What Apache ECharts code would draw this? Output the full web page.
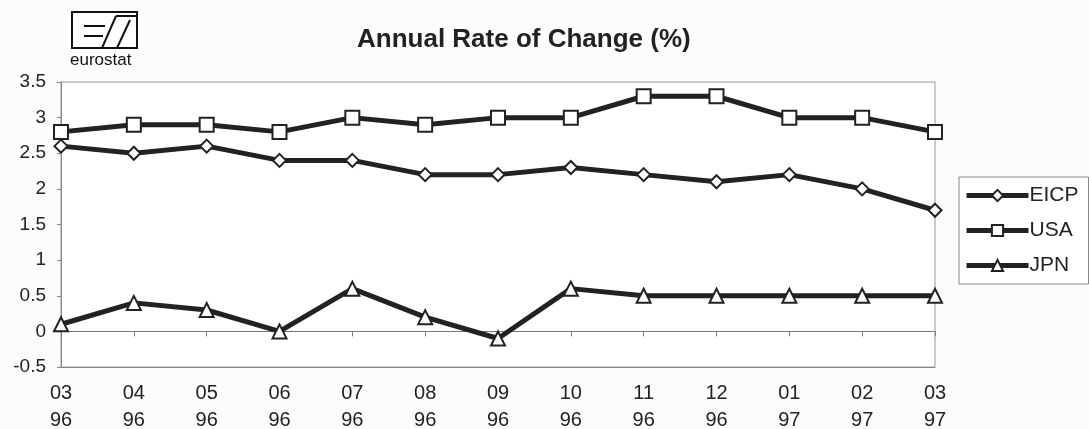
<!DOCTYPE html>
<html>
<head>
<meta charset="utf-8">
<script src="https://cdn.jsdelivr.net/npm/echarts@6/dist/echarts.min.js"></script>
<style>
html,body{margin:0;padding:0;background:#fcfcfc;}
#chart{width:1089px;height:429px;}
</style>
</head>
<body>
<div id="chart"></div>
<script>
var months = ['03\n96','04\n96','05\n96','06\n96','07\n96','08\n96','09\n96','10\n96','11\n96','12\n96','01\n97','02\n97','03\n97'];
var eicp = [2.6, 2.5, 2.6, 2.4, 2.4, 2.2, 2.2, 2.3, 2.2, 2.1, 2.2, 2.0, 1.7];
var usa  = [2.8, 2.9, 2.9, 2.8, 3.0, 2.9, 3.0, 3.0, 3.3, 3.3, 3.0, 3.0, 2.8];
var jpn  = [0.1, 0.4, 0.3, 0.0, 0.6, 0.2, -0.1, 0.6, 0.5, 0.5, 0.5, 0.5, 0.5];

var chart = echarts.init(document.getElementById('chart'));
var font = 'Liberation Sans, Arial, sans-serif';

function mkSeries(name, data, symbol, size){
    return {
        name: name,
        type: 'line',
        data: data,
        symbol: symbol,
        symbolSize: size,
        showAllSymbol: true,
        lineStyle: {color: '#222', width: 5},
        itemStyle: {color: '#fff', borderColor: '#222', borderWidth: 2},
        emphasis: {disabled: true},
        z: 3
    };
}

var option = {
    backgroundColor: '#fcfcfc',
    animation: false,
    title: {
        text: 'Annual Rate of Change (%)',
        left: 352,
        top: 22,
        textStyle: {fontFamily: font, fontSize: 26, fontWeight: 'bold', color: '#222'}
    },
    grid: {
        left: 61, right: 154, top: 82, bottom: 62,
        outerBoundsMode: 'none',
        containLabel: false,
        show: true, backgroundColor: '#fff', borderColor: '#999', borderWidth: 1
    },
    legend: {
        orient: 'vertical',
        left: 959, top: 177,
        padding: [8, 10, 8, 5],
        itemWidth: 62, itemHeight: 14, itemGap: 14,
        borderColor: '#888', borderWidth: 1,
        backgroundColor: '#fff',
        lineStyle: {width: 5, color: '#222'},
        textStyle: {fontFamily: font, fontSize: 21, color: '#222', padding: [0, 0, 0, -4]},
        data: ['EICP', 'USA', 'JPN']
    },
    xAxis: [{
        type: 'category',
        data: months,
        boundaryGap: false,
        axisLine: {onZero: false, lineStyle: {color: '#888'}},
        axisTick: {show: false},
        axisLabel: {fontFamily: font, fontSize: 20, lineHeight: 27, color: '#222', margin: 13}
    }, {
        type: 'category',
        data: months,
        boundaryGap: false,
        position: 'bottom',
        axisLine: {onZero: true, onZeroAxisIndex: 0, lineStyle: {color: '#777'}},
        axisTick: {show: true, length: 5, alignWithLabel: true, lineStyle: {color: '#777'}},
        axisLabel: {show: false}
    }],
    yAxis: {
        type: 'value',
        min: -0.5, max: 3.5, interval: 0.5,
        axisLine: {show: true, lineStyle: {color: '#888'}},
        axisTick: {show: true, length: 4, lineStyle: {color: '#888'}},
        splitLine: {show: false},
        axisLabel: {fontFamily: font, fontSize: 19, color: '#222', margin: 15}
    },
    graphic: [{
        type: 'group',
        left: 70, top: 11,
        children: [
            {type: 'rect', shape: {x: 0, y: 0, width: 65, height: 36}, style: {fill: '#fff', stroke: '#111', lineWidth: 2}},
            {type: 'line', shape: {x1: 12, y1: 14, x2: 33, y2: 14}, style: {stroke: '#111', lineWidth: 2}},
            {type: 'line', shape: {x1: 12, y1: 24, x2: 31, y2: 24}, style: {stroke: '#111', lineWidth: 2}},
            {type: 'line', shape: {x1: 30, y1: 36, x2: 44, y2: 4}, style: {stroke: '#111', lineWidth: 2}},
            {type: 'line', shape: {x1: 44, y1: 4, x2: 65, y2: 4}, style: {stroke: '#111', lineWidth: 2}},
            {type: 'line', shape: {x1: 45, y1: 36, x2: 58, y2: 8}, style: {stroke: '#111', lineWidth: 2}},
            {type: 'text', x: -2, y: 40, style: {text: 'eurostat', fontFamily: font, fontSize: 17, fill: '#111'}}
        ]
    }],
    series: [
        mkSeries('EICP', eicp, 'diamond', 13),
        mkSeries('USA', usa, 'rect', 14),
        mkSeries('JPN', jpn, 'triangle', 14)
    ]
};
chart.setOption(option);
</script>
</body>
</html>
